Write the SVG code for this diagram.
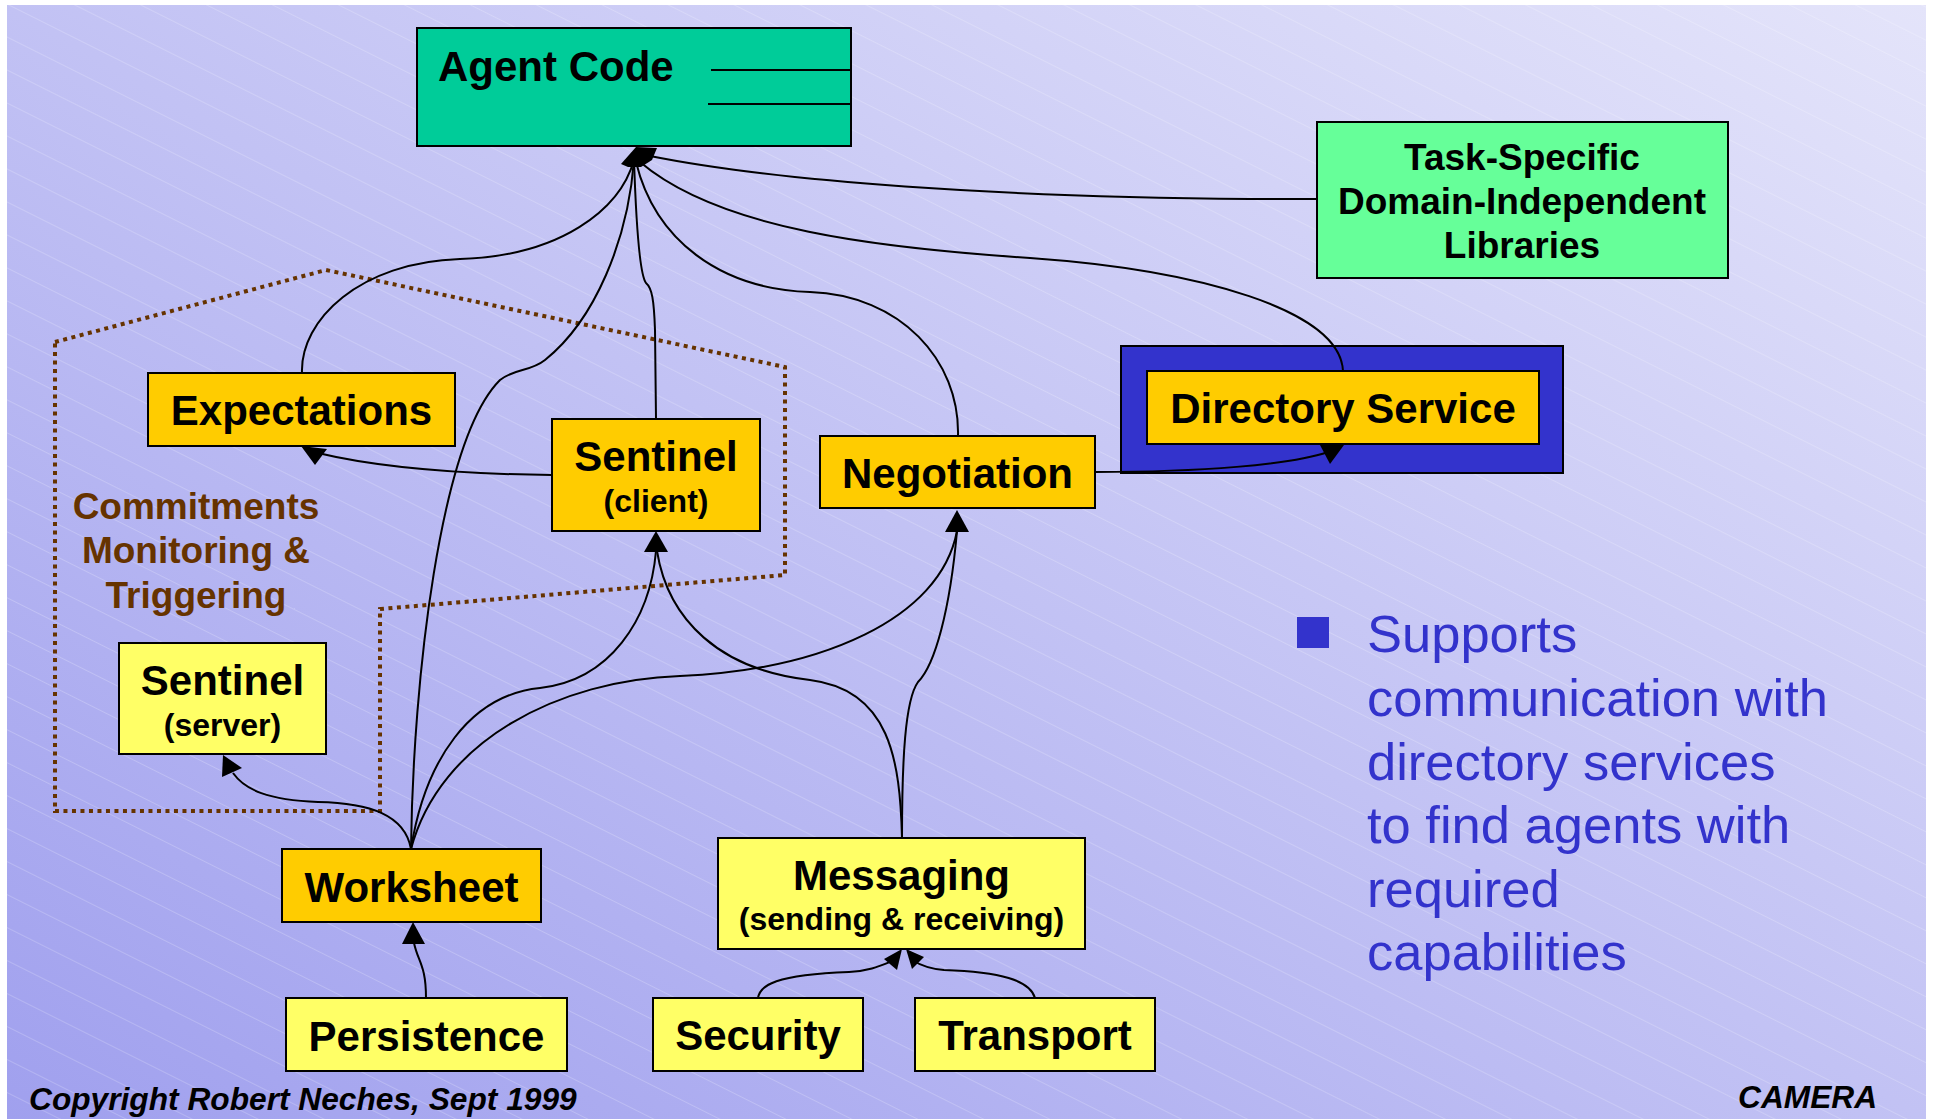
<svg xmlns="http://www.w3.org/2000/svg" width="1933" height="1119" viewBox="0 0 1933 1119">
<style>
.box{stroke:#000;stroke-width:2}
.y1{fill:#ffcc00}
.y2{fill:#ffff66}
.t{font-family:"Liberation Sans",Arial,sans-serif;font-weight:bold;fill:#000}
.big{font-size:42px}
.mid{font-size:37px}
.sm{font-size:32px}
.c{text-anchor:middle}
.cn{fill:none;stroke:#000;stroke-width:2}
.ah{fill:#000;stroke:none}
.bul{font-family:"Liberation Sans",Arial,sans-serif;font-size:52.5px;fill:#3333cc}
.foot{font-family:"Liberation Sans",Arial,sans-serif;font-weight:bold;font-style:italic;font-size:31.7px;fill:#000}
</style>
<defs>
<linearGradient id="bg" x1="0" y1="1" x2="1" y2="0">
<stop offset="0" stop-color="#a0a0ee"/>
<stop offset="1" stop-color="#e4e4fa"/>
</linearGradient>
<pattern id="hatch" patternUnits="userSpaceOnUse" width="200" height="29.5" patternTransform="rotate(26.57)">
<line x1="0" y1="0.5" x2="200" y2="0.5" stroke="#ffffff" stroke-opacity="0.2" stroke-width="1"/>
</pattern>
</defs>
<rect x="0" y="0" width="1933" height="1119" fill="#ffffff"/>
<rect x="7" y="5" width="1919" height="1114" fill="url(#bg)"/>
<rect x="7" y="5" width="1919" height="1114" fill="url(#hatch)"/>

<g id="region-commitments">
<polygon points="55,342 326,270 785,367 785,575 380,609 380,811 55,811" fill="none" stroke="#663300" stroke-width="4" stroke-dasharray="4 4.5"/>
<text class="t mid c" x="196" y="519" style="fill:#663300">Commitments</text>
<text class="t mid c" x="196" y="563" style="fill:#663300">Monitoring &amp;</text>
<text class="t mid c" x="196" y="608" style="fill:#663300">Triggering</text>
</g>

<g id="node-agent-code">
<rect class="box" x="417" y="28" width="434" height="118" fill="#00cc99"/>
<line x1="711" y1="70" x2="852" y2="70" stroke="#000" stroke-width="2"/>
<line x1="708" y1="104" x2="851" y2="104" stroke="#000" stroke-width="2"/>
<text class="t big" x="438" y="81">Agent Code</text>
</g>

<g id="node-task-specific">
<rect class="box" x="1317" y="122" width="411" height="156" fill="#66ff99"/>
<text class="t mid c" x="1522" y="170">Task-Specific</text>
<text class="t mid c" x="1522" y="214">Domain-Independent</text>
<text class="t mid c" x="1522" y="258">Libraries</text>
</g>

<g id="node-expectations">
<rect class="box y1" x="148" y="373" width="307" height="73"/>
<text class="t big c" x="301.5" y="425">Expectations</text>
</g>

<g id="node-sentinel-client">
<rect class="box y1" x="552" y="419" width="208" height="112"/>
<text class="t big c" x="656" y="471">Sentinel</text>
<text class="t sm c" x="656" y="512">(client)</text>
</g>

<g id="node-negotiation">
<rect class="box y1" x="820" y="436" width="275" height="72"/>
<text class="t big c" x="957.5" y="488">Negotiation</text>
</g>

<g id="node-directory-service">
<rect class="box" x="1121" y="346" width="442" height="127" fill="#3333cc"/>
<rect class="box y1" x="1147" y="371" width="392" height="73"/>
<text class="t big c" x="1343" y="423">Directory Service</text>
</g>

<g id="node-sentinel-server">
<rect class="box y2" x="119" y="643" width="207" height="111"/>
<text class="t big c" x="222.5" y="695">Sentinel</text>
<text class="t sm c" x="222.5" y="736">(server)</text>
</g>

<g id="node-worksheet">
<rect class="box y1" x="282" y="849" width="259" height="73"/>
<text class="t big c" x="411.5" y="902">Worksheet</text>
</g>

<g id="node-messaging">
<rect class="box y2" x="718" y="838" width="367" height="111"/>
<text class="t big c" x="901.5" y="890">Messaging</text>
<text class="t sm c" x="901.5" y="930">(sending &amp; receiving)</text>
</g>

<g id="node-persistence">
<rect class="box y2" x="286" y="998" width="281" height="73"/>
<text class="t big c" x="426.5" y="1051">Persistence</text>
</g>

<g id="node-security">
<rect class="box y2" x="653" y="998" width="210" height="73"/>
<text class="t big c" x="758" y="1050">Security</text>
</g>

<g id="node-transport">
<rect class="box y2" x="915" y="998" width="240" height="73"/>
<text class="t big c" x="1035" y="1050">Transport</text>
</g>

<g id="connectors">
<path class="cn" d="M302,373 C300,320 360,262 460,259 C560,256 620,210 634,160"/>
<path class="cn" d="M656,419 L655,330 C654,300 652,288 646,283 C640,275 636,220 634,160"/>
<path class="cn" d="M411,849 C413,680 440,440 500,380 C515,368 530,372 545,360 C595,320 628,240 634,160"/>
<path class="cn" d="M958,436 C960,360 900,295 810,292 C720,289 655,240 636,162"/>
<path class="cn" d="M1343,371 C1340,310 1200,270 1030,258 C880,248 720,230 640,162"/>
<path class="cn" d="M1317,199 L1250,199 C1000,197 780,182 650,156"/>
<path class="cn" d="M552,475 C460,474 380,468 318,453"/>
<path class="cn" d="M411,849 C405,815 370,803 318,802 C268,800 245,790 233,773"/>
<path class="cn" d="M411,849 C425,760 470,695 540,688 C610,680 650,620 656,551"/>
<path class="cn" d="M411,849 C440,740 560,680 680,676 C820,670 940,620 957,531"/>
<path class="cn" d="M902,838 C900,760 890,690 810,680 C720,670 668,620 657,551"/>
<path class="cn" d="M902,838 C902,760 905,700 918,682 C935,665 950,610 957,531"/>
<path class="cn" d="M1095,472 C1200,472 1290,465 1328,452"/>
<path class="cn" d="M758,998 C760,985 775,975 849,972 C870,971 880,966 895,960"/>
<path class="cn" d="M1035,998 C1030,980 1000,972 944,970 C930,969 920,965 912,960"/>
<path class="cn" d="M426,998 C426,965 418,962 414,943"/>
<polygon class="ah" points="621,164 636,147 657,148 652,160 641,167 628,167"/>
<polygon class="ah" points="301,446 327,449 315,465"/>
<polygon class="ah" points="223,755 222,777 242,768"/>
<polygon class="ah" points="656,531 644,552 668,552"/>
<polygon class="ah" points="957,510 945,532 969,532"/>
<polygon class="ah" points="1320,445 1344,445 1330,464"/>
<polygon class="ah" points="902,949 884,959 897,970"/>
<polygon class="ah" points="906,949 924,957 912,969"/>
<polygon class="ah" points="413,922 402,944 425,944"/>
</g>

<g id="bullet-text">
<rect x="1297" y="617" width="32" height="31" fill="#3333cc"/>
<text class="bul" x="1367" y="652">Supports</text>
<text class="bul" x="1367" y="716">communication with</text>
<text class="bul" x="1367" y="780">directory services</text>
<text class="bul" x="1367" y="843">to find agents with</text>
<text class="bul" x="1367" y="907">required</text>
<text class="bul" x="1367" y="970">capabilities</text>
</g>

<text class="foot" x="29" y="1110">Copyright Robert Neches, Sept 1999</text>
<text class="foot" x="1738" y="1108">CAMERA</text>
</svg>
